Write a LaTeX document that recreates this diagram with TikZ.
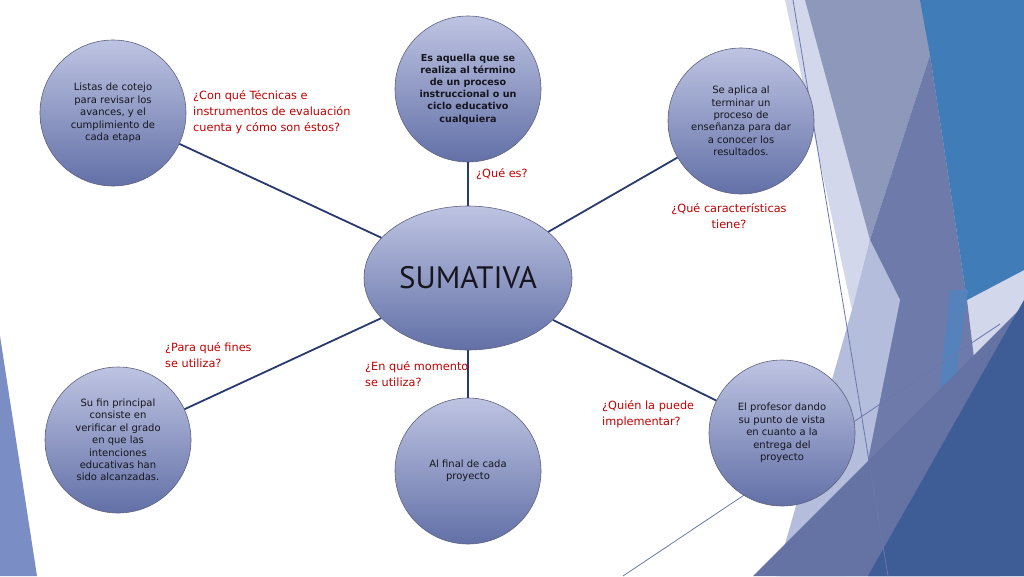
\documentclass[tikz,border=0pt]{standalone}
\usepackage{fontspec}
\setmainfont{DejaVu Sans}
\newfontfamily\hubfont{PT Sans}
\usetikzlibrary{shapes.geometric,shadings}
\definecolor{ctop}{RGB}{190,196,226}
\definecolor{cbot}{RGB}{98,112,167}
\definecolor{cborder}{RGB}{95,98,125}
\definecolor{ctext}{RGB}{22,22,30}
\definecolor{cred}{RGB}{192,0,0}
\definecolor{cline}{RGB}{40,58,110}
\definecolor{bgpale}{RGB}{210,215,235}
\definecolor{bglav}{RGB}{180,189,220}
\definecolor{bggray}{RGB}{141,152,186}
\definecolor{bgslate}{RGB}{110,123,170}
\definecolor{bgslate2}{RGB}{100,114,164}
\definecolor{bgblue}{RGB}{64,124,183}
\definecolor{bglblue}{RGB}{86,130,188}
\definecolor{bgnavy}{RGB}{62,92,150}
\definecolor{bgthin}{RGB}{105,120,172}
\definecolor{bgleft}{RGB}{122,141,196}
\begin{document}
\begin{tikzpicture}[x=1pt,y=-1pt,
  bubble/.style={circle, minimum size=146pt, inner sep=0pt, draw=cborder, line width=0.6pt,
    top color=ctop, bottom color=cbot, text=ctext, align=center,
    font=\fontsize{10}{12.4}\selectfont},
  boldbubble/.style={bubble, font=\fontsize{9.6}{12.2}\selectfont\bfseries},
  hub/.style={ellipse, minimum width=208pt, minimum height=144pt, inner sep=0pt, draw=cborder,
    line width=0.6pt, top color=ctop, bottom color=cbot, text=ctext,
    font=\hubfont\fontsize{31}{36}\selectfont},
  qlabel/.style={text=cred, inner sep=0pt, font=\fontsize{11.3}{16}\selectfont},
  link/.style={draw=cline, line width=1.8pt},
  thinline/.style={draw=bgthin, line width=0.8pt}]
\useasboundingbox (0,0) rectangle (1024,576);
\fill[white] (0,0) rectangle (1024,576);
% background facets
\fill[bgleft] (0,336) -- (37,576) -- (0,576) -- cycle;
\fill[bgpale] (785,0) -- (1024,0) -- (1024,576) -- (776,576) -- (852,310) -- cycle;
\fill[bggray] (805,0) -- (922,0) -- (930,55) -- (870,240) -- cycle;
\fill[bgslate] (930,55) -- (967,300) -- (1000,576) -- (780,576) -- (858,330) -- (870,240) -- cycle;
\fill[bglav] (870,240) -- (900,300) -- (870,450) -- (845,576) -- (776,576) -- (852,310) -- cycle;
\fill[bgblue] (920,0) -- (1024,0) -- (1024,270) -- (967,300) -- (930,55) -- cycle;
\fill[bglblue] (950,290) -- (968,290) -- (944,460) -- (932,460) -- cycle;
\fill[bgslate2] (753,576) -- (1024,305) -- (1024,576) -- cycle;
\fill[bgnavy] (868,576) -- (1024,300) -- (1024,576) -- cycle;
\coordinate (la) at (793,0);
\coordinate (lb) at (888,576);
\coordinate (lc) at (623,576);
\coordinate (ld) at (1000,324);
\draw[thinline] (la) -- (lb);
\draw[thinline] (lc) -- (ld);
% nodes
\node[hub] (c) at (468,278) {SUMATIVA};
\node[bubble] (tl) at (113,113) {Listas de cotejo\\para revisar los\\avances, y el\\cumplimiento de\\cada etapa};
\node[boldbubble] (tc) at (468,89) {Es aquella que se\\realiza al término\\de un proceso\\instruccional o un\\ciclo educativo\\cualquiera};
\node[bubble] (tr) at (741,121) {Se aplica al\\terminar un\\proceso de\\enseñanza para dar\\a conocer los\\resultados.};
\node[bubble] (bl) at (118,440) {Su fin principal\\consiste en\\verificar el grado\\en que las\\intenciones\\educativas han\\sido alcanzadas.};
\node[bubble] (bc) at (468,471) {Al final de cada\\proyecto};
\node[bubble] (br) at (782,433) {El profesor dando\\su punto de vista\\en cuanto a la\\entrega del\\proyecto};
% connectors
\draw[link] (tl) -- (c);
\draw[link] (tc) -- (c);
\draw[link] (tr) -- (c);
\draw[link] (bl) -- (c);
\draw[link] (bc) -- (c);
\draw[link] (br) -- (c);
% question labels
\node[qlabel, anchor=north west, align=left] (q1) at (193,90) {¿Con qué Técnicas e\\instrumentos de evaluación\\cuenta y cómo son éstos?};
\node[qlabel, anchor=north west, align=left] (q2) at (476,168) {¿Qué es?};
\node[qlabel, anchor=north, align=center] (q3) at (729,203) {¿Qué características\\tiene?};
\node[qlabel, anchor=north west, align=left] (q4) at (165,342) {¿Para qué fines\\se utiliza?};
\node[qlabel, anchor=north west, align=left] (q5) at (365,361) {¿En qué momento\\se utiliza?};
\node[qlabel, anchor=north west, align=left] (q6) at (602,400) {¿Quién la puede\\implementar?};
\end{tikzpicture}
\end{document}
